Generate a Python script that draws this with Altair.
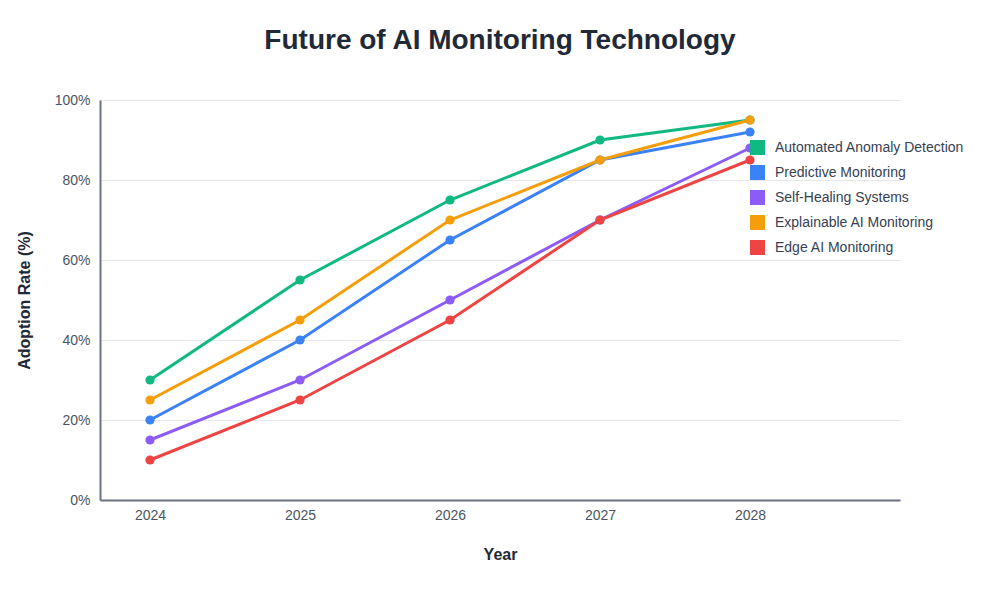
import altair as alt
import pandas as pd

years = [2024, 2025, 2026, 2027, 2028]
series_names = [
    "Automated Anomaly Detection",
    "Predictive Monitoring",
    "Self-Healing Systems",
    "Explainable AI Monitoring",
    "Edge AI Monitoring",
]
colors = ["#10b981", "#3b82f6", "#8b5cf6", "#f59e0b", "#ef4444"]
anomaly = [30, 55, 75, 90, 95]
predictive = [20, 40, 65, 85, 92]
self_healing = [15, 30, 50, 70, 88]
explainable = [25, 45, 70, 85, 95]
edge = [10, 25, 45, 70, 85]

values = [anomaly, predictive, self_healing, explainable, edge]
rows = []
for i, (name, vals) in enumerate(zip(series_names, values)):
    for y, v in zip(years, vals):
        rows.append({"Year": y, "Rate": v, "Series": name, "order": i})
df = pd.DataFrame(rows)

FONT = "Liberation Sans, Arial, Helvetica, sans-serif"

x = alt.X(
    "Year:Q",
    scale=alt.Scale(domain=[2023 + 2 / 3, 2029], nice=False, zero=False),
    axis=alt.Axis(
        values=years, format="d", title="Year", grid=False, ticks=False,
        labelPadding=8, titlePadding=24,
    ),
)
y = alt.Y(
    "Rate:Q",
    scale=alt.Scale(domain=[0, 100], nice=False),
    axis=alt.Axis(
        values=[0, 20, 40, 60, 80, 100], labelExpr="datum.value + '%'",
        title="Adoption Rate (%)", ticks=False, labelPadding=10, titlePadding=22,
    ),
)
color = alt.Color(
    "Series:N",
    scale=alt.Scale(domain=series_names, range=colors),
    legend=alt.Legend(
        title=None, orient="none", legendX=650, legendY=40, symbolType="square",
        symbolSize=225, symbolStrokeWidth=0, symbolOpacity=1, labelFontSize=14,
        labelColor="#374151", labelFont=FONT, rowPadding=10, labelOffset=10,
        padding=0, labelLimit=300,
    ),
)

base = alt.Chart(df).encode(x=x, y=y, color=color, order="order:Q", detail="Series:N")
lines = base.mark_line(strokeWidth=3)
points = base.mark_circle(size=85, opacity=1)

chart = (
    alt.layer(lines, points)
    .properties(
        width=800,
        height=400,
        title=alt.TitleParams(
            "Future of AI Monitoring Technology", fontSize=28, fontWeight="bold",
            color="#1f2937", font=FONT, offset=38, anchor="middle",
        ),
        autosize=alt.AutoSizeParams(type="none"),
        padding={"left": 92, "top": 92, "right": 92, "bottom": 92},
    )
    .configure_view(stroke=None)
    .configure_axis(
        labelFont=FONT, titleFont=FONT, labelFontSize=14, labelColor="#4b5563",
        titleFontSize=16, titleFontWeight="bold", titleColor="#1f2937",
        domainColor="#6b7280", domainWidth=2, gridColor="#e5e7eb", gridWidth=1,
    )
)
chart.save("out.html", embed_options={"renderer": "svg", "actions": False})
